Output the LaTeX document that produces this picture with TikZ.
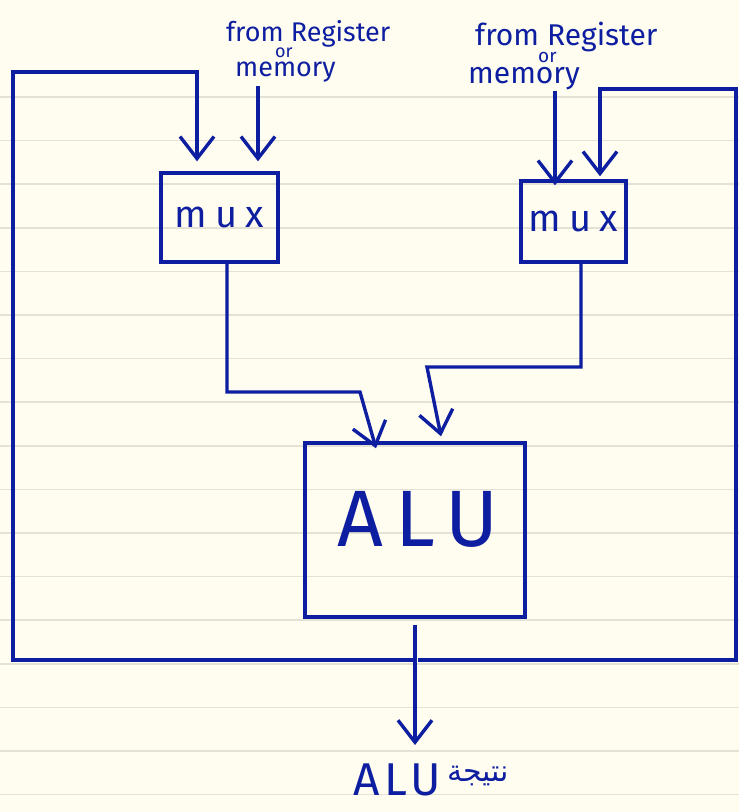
\documentclass[tikz,border=0pt]{standalone}
\usepackage{fontspec}
\setmainfont{Fira Sans}
\newfontfamily\arabicfont[Script=Arabic]{DejaVu Sans}
\TeXXeTstate=1
\usetikzlibrary{arrows.meta}
\definecolor{ink}{RGB}{14,30,160}
\definecolor{paper}{RGB}{255,253,240}
\definecolor{ruling}{RGB}{228,226,212}
\begin{document}
\begin{tikzpicture}[x=1pt,y=-1pt,
  wire/.style={draw=ink,line width=3.4pt,line join=miter},
  arr/.style={wire,-{Straight Barb[length=22pt,width=34pt,line width=3.4pt]}},
  box/.style={draw=ink,line width=3.4pt,inner sep=0pt},
  txt/.style={text=ink,inner sep=0pt},
  src/.style={txt,align=left,anchor=base west},
  muxlbl/.style={font=\fontsize{38}{38}\selectfont\addfontfeature{LetterSpace=22}}
]
\fill[paper] (0,0) rectangle (739,812);
\useasboundingbox (0,0) rectangle (739,812);
\foreach \k in {0,...,16}
  \draw[ruling,line width=1.5pt] (0,{97+43.6*\k}) -- (739,{97+43.6*\k});

% boxes
\node[box,minimum width=117pt,minimum height=89pt,text=ink,muxlbl] (muxL) at (219.5,217.5) {mux};
\node[box,minimum width=105pt,minimum height=81pt,text=ink,muxlbl] (muxR) at (573.5,221.5) {mux};
\node[box,minimum width=220pt,minimum height=174pt] (alu) at (415,530) {};
\node[txt,font=\fontsize{80}{80}\selectfont\addfontfeature{LetterSpace=15}] (alutext) at (418,519) {ALU};

% source labels (anchor = baseline of the last line)
\node[src,font=\fontsize{27}{16}\selectfont] (srcL) at (226,76)
  {from Register\\{\fontsize{18}{16}\selectfont\hspace*{49pt}or}\\[3pt]\hspace*{9pt}memory};
\node[src,font=\fontsize{30}{17}\selectfont] (srcR) at (468,83)
  {\hspace*{7pt}from Register\\{\fontsize{19}{17}\selectfont\hspace*{70pt}or}\\[4pt]memory};

% bottom label
\node[txt,font=\fontsize{46}{46}\selectfont\addfontfeature{LetterSpace=10}] (res) at (397,780) {ALU};
\node[txt,font=\fontsize{30}{30}\selectfont\arabicfont,anchor=west] (resar) at ([xshift=6pt,yshift=4pt]res.east) {\beginR نتيجة\endR};

% junctions and bends
\coordinate (jL) at (415,660);
\coordinate (jR) at (418,660);
\coordinate (out) at (415,745);

% inputs from register or memory
\draw[arr,shorten >=10pt] (258,86) -- (258,0 |- muxL.north);
\draw[arr,shorten >=-6pt] (555,91) -- (555,0 |- muxR.north);

% feedback loops
\draw[arr,shorten >=10pt] (jL) -- (13,660) -- (13,72) -- (197,72) -- (197,0 |- muxL.north);
\draw[arr,shorten >=3pt] (jR) -- (736,660) -- (736,89) -- (600,89) -- (600,0 |- muxR.north);

% mux outputs to ALU
\draw[arr] (227,0 |- muxL.south) -- (227,392) -- (360,392) -- ([yshift=-7pt]alu.north -| 376,0);
\draw[arr] (581,0 |- muxR.south) -- (581,367) -- (427,367) -- ([yshift=5pt]alu.north -| 441,0);

% ALU output
\draw[arr,shorten <=6pt] (alu.south) -- (out);
\end{tikzpicture}
\end{document}
